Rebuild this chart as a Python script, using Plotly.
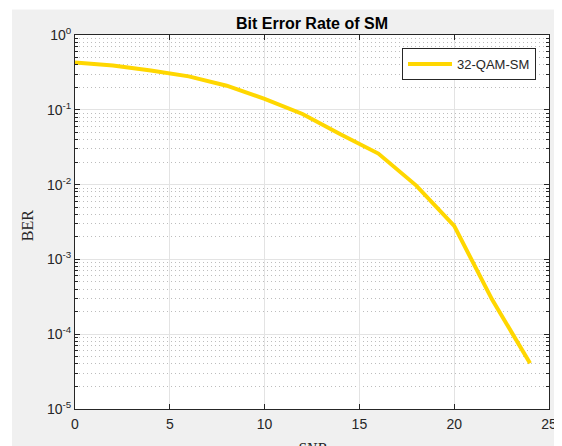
import plotly.graph_objects as go

snr = [0, 2, 4, 6, 8, 10, 12, 14, 16, 18, 20, 22, 24]
ber = [0.43, 0.39, 0.335, 0.28, 0.21, 0.14, 0.088, 0.047, 0.026, 0.0097, 0.0028, 2.9e-4, 4.1e-5]
series_name = "32-QAM-SM"
y_tickvals = [1e-5, 1e-4, 1e-3, 1e-2, 1e-1, 1e0]
y_ticktext = ["10<sup>-5</sup>", "10<sup>-4</sup>", "10<sup>-3</sup>", "10<sup>-2</sup>", "10<sup>-1</sup>", "10<sup>0</sup>"]
x_tickvals = [0, 5, 10, 15, 20, 25]

axis_col = "#262626"
sans = "Liberation Sans, Arial, sans-serif"
serif = "Liberation Serif, Times New Roman, serif"

# the page body adds an 8px offset; the figure is made wide enough to reach the window edge
W, H = 562, 446
L, T, PW, PH = 67, 27, 474, 374

fig = go.Figure()
fig.add_trace(go.Scatter(x=snr, y=ber, mode="lines", name=series_name,
                         line=dict(color="#FFD700", width=4)))

fig.update_layout(
    width=W, height=H,
    margin=dict(l=L, r=W - L - PW, t=T, b=H - T - PH, autoexpand=False),
    paper_bgcolor="#F0F0F0",
    plot_bgcolor="white",
    showlegend=True,
    title=dict(text="<b>Bit Error Rate of SM</b>", x=(L + PW / 2) / W, xanchor="center",
               y=1 - 15 / H, yanchor="middle", yref="container", automargin=False,
               font=dict(family=sans, size=16, color="black")),
    legend=dict(x=(402 - 75) / PW, y=1 - 13 / PH, xanchor="left", yanchor="top",
                bgcolor="white", bordercolor=axis_col, borderwidth=1,
                font=dict(family=sans, size=13, color=axis_col),
                itemwidth=44, tracegroupgap=0),
    xaxis=dict(range=[0, 25], tickvals=x_tickvals, ticks="inside", ticklen=5,
               tickcolor=axis_col, showline=True, linecolor=axis_col, linewidth=1,
               mirror="ticks", showgrid=True, gridcolor="#E3E3E3", gridwidth=1,
               zeroline=False, automargin=False, ticklabelstandoff=2,
               tickfont=dict(family=sans, size=14, color=axis_col)),
    yaxis=dict(type="log", range=[-5, 0], tickvals=y_tickvals, ticktext=y_ticktext,
               ticks="inside", ticklen=5, tickcolor=axis_col, showline=True,
               linecolor=axis_col, linewidth=1, mirror="ticks", automargin=False,
               showgrid=True, gridcolor="#E3E3E3", gridwidth=1, zeroline=False,
               tickfont=dict(family=sans, size=14, color=axis_col),
               minor=dict(ticks="inside", ticklen=3, tickcolor=axis_col,
                          showgrid=True, gridcolor="#BDBDBD", griddash="1px,3px",
                          gridwidth=1, dtick="D1")),
    shapes=[
        dict(type="rect", xref="paper", yref="paper", x0=-0.3, x1=1.2,
             y0=(T + PH - 1.5) / PH, y1=1.3, fillcolor="white", line=dict(width=0),
             layer="below"),
        dict(type="rect", xref="paper", yref="paper", x0=-0.3, x1=(4 - L) / PW,
             y0=-0.3, y1=1.3, fillcolor="white", line=dict(width=0), layer="below"),
    ],
    annotations=[
        dict(text="BER", xref="paper", yref="paper", x=(27.5 - 75) / PW, y=0.49,
             xanchor="center", yanchor="middle", textangle=-90, showarrow=False,
             font=dict(family=serif, size=16, color=axis_col)),
        dict(text="<i>SNR</i>", xref="paper", yref="paper", x=0.5, y=-29 / PH,
             xanchor="center", yanchor="top", showarrow=False,
             font=dict(family=serif, size=16, color=axis_col)),
    ],
)

fig.write_html("out.html")
